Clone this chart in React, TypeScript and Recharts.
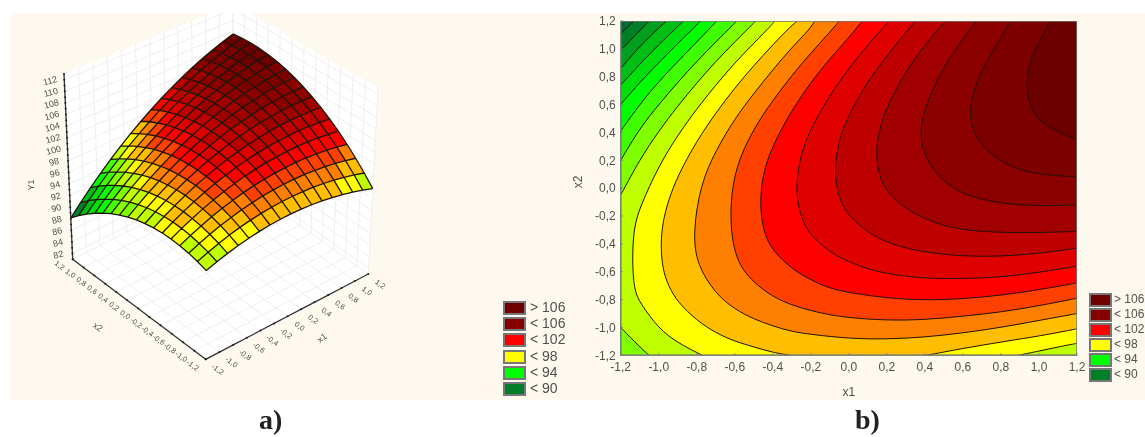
import { Area, ComposedChart, Line, XAxis, YAxis } from "recharts";

// surface heights Y1, rows x2 = -1.2 .. 1.2, columns x1 = -1.2 .. 1.2 (step 0.15)
const SURFACE_Z = [
  [95.46, 96.07, 96.6, 97.06, 97.43, 97.72, 97.94, 98.07, 98.12, 98.1, 97.99, 97.81, 97.54, 97.2, 96.78, 96.27, 95.69],
  [95.95, 96.64, 97.24, 97.78, 98.22, 98.59, 98.88, 99.09, 99.21, 99.27, 99.23, 99.13, 98.93, 98.67, 98.32, 97.88, 97.38],
  [96.32, 97.08, 97.76, 98.37, 98.89, 99.33, 99.7, 99.98, 100.18, 100.31, 100.34, 100.32, 100.19, 100.01, 99.73, 99.37, 98.94],
  [96.56, 97.4, 98.15, 98.83, 99.43, 99.94, 100.39, 100.74, 101.02, 101.22, 101.33, 101.38, 101.33, 101.22, 101.02, 100.73, 100.38],
  [96.67, 97.59, 98.41, 99.17, 99.84, 100.43, 100.95, 101.38, 101.73, 102.01, 102.19, 102.31, 102.34, 102.3, 102.18, 101.96, 101.69],
  [96.66, 97.65, 98.55, 99.38, 100.13, 100.79, 101.38, 101.89, 102.31, 102.67, 102.92, 103.12, 103.22, 103.26, 103.21, 103.07, 102.87],
  [96.52, 97.58, 98.56, 99.46, 100.29, 101.02, 101.69, 102.27, 102.77, 103.2, 103.53, 103.8, 103.98, 104.09, 104.11, 104.05, 103.92],
  [96.25, 97.39, 98.44, 99.42, 100.32, 101.13, 101.87, 102.53, 103.1, 103.61, 104.01, 104.35, 104.61, 104.79, 104.89, 104.9, 104.85],
  [95.86, 97.07, 98.2, 99.25, 100.22, 101.11, 101.92, 102.66, 103.3, 103.89, 104.36, 104.78, 105.11, 105.37, 105.54, 105.63, 105.65],
  [95.34, 96.62, 97.83, 98.95, 100.0, 100.96, 101.85, 102.66, 103.38, 104.04, 104.59, 105.08, 105.49, 105.82, 106.06, 106.23, 106.32],
  [94.69, 96.05, 97.33, 98.53, 99.65, 100.69, 101.65, 102.53, 103.33, 104.06, 104.69, 105.25, 105.74, 106.14, 106.46, 106.7, 106.87],
  [93.92, 95.35, 96.71, 97.98, 99.17, 100.29, 101.32, 102.28, 103.15, 103.96, 104.66, 105.3, 105.86, 106.34, 106.73, 107.05, 107.29],
  [93.02, 94.52, 95.96, 97.3, 98.57, 99.76, 100.87, 101.9, 102.85, 103.73, 104.51, 105.22, 105.85, 106.41, 106.87, 107.27, 107.58],
  [91.99, 93.57, 95.08, 96.5, 97.84, 99.11, 100.29, 101.39, 102.42, 103.37, 104.23, 105.01, 105.72, 106.35, 106.89, 107.36, 107.75],
  [90.83, 92.49, 94.07, 95.57, 96.98, 98.33, 99.58, 100.76, 101.86, 102.89, 103.82, 104.68, 105.46, 106.17, 106.78, 107.32, 107.79],
  [89.55, 91.28, 92.94, 94.51, 96.0, 97.42, 98.75, 100.0, 101.18, 102.28, 103.28, 104.22, 105.07, 105.86, 106.54, 107.16, 107.7],
  [88.14, 89.95, 91.68, 93.32, 94.89, 96.38, 97.79, 99.11, 100.37, 101.54, 102.62, 103.63, 104.56, 105.42, 106.18, 106.87, 107.49],
];

const BAND_LEVELS = [89, 90, 91, 92, 93, 94, 95, 96, 97, 98, 99, 100, 101, 102, 103, 104, 105, 106, 107];
const BAND_COLORS = [
  "#006a33", "#007f28", "#00a01e", "#00bf14", "#00df0a", "#00ff00", "#40ff00", "#80ff00", "#bfff00", "#ffff00",
  "#ffbf00", "#ff8000", "#ff4000", "#ff0000", "#df0000", "#bf0000", "#a00000", "#8c0000", "#7c0000", "#6c0000",
];

const AXIS_TICKS = [-1.2, -1, -0.8, -0.6, -0.4, -0.2, 0, 0.2, 0.4, 0.6, 0.8, 1, 1.2];
const Z_TICKS = [82, 84, 86, 88, 90, 92, 94, 96, 98, 100, 102, 104, 106, 108, 110, 112];
const Z_STEPS = [81, 82, 83, 84, 85, 86, 87, 88, 89, 90, 91, 92, 93, 94, 95, 96, 97, 98, 99, 100, 101, 102, 103, 104, 105, 106, 107, 108, 109, 110, 111, 112, 113];

// contour lines of panel b as [x1, x2], one or two pieces per level
const CONTOURS: number[][][][] = [
  [[[-1.2, 1.11], [-1.13, 1.2]]],
  [[[-1.2, 0.99], [-1.1, 1.13], [-1.05, 1.2]]],
  [[[-1.2, 0.86], [-1.1, 1.02], [-1, 1.15], [-0.96, 1.2]]],
  [[[-1.2, 0.74], [-1.1, 0.89], [-1, 1.03], [-0.9, 1.16], [-0.87, 1.2]]],
  [[[-1.2, 0.6], [-1.1, 0.76], [-1, 0.9], [-0.9, 1.04], [-0.8, 1.17], [-0.78, 1.2]]],
  [[[-1.2, 0.41], [-1.08, 0.64], [-0.95, 0.84], [-0.82, 1.02], [-0.695, 1.2]]],
  [[[-1.2, 0.2], [-1.1, 0.43], [-1, 0.6], [-0.9, 0.76], [-0.8, 0.91], [-0.7, 1.05], [-0.6, 1.185], [-0.59, 1.2]]],
  [
    [[-0.49, 1.2], [-0.6, 1.05], [-0.7, 0.91], [-0.8, 0.755], [-0.9, 0.59], [-1, 0.41], [-1.1, 0.205], [-1.2, -0.05]],
    [[-1.2, -1.0], [-1.1, -1.14], [-1.05, -1.2]],
  ],
  [
    [[-0.39, 1.2], [-0.4, 1.18], [-0.5, 1.04], [-0.6, 0.9], [-0.7, 0.74], [-0.8, 0.57], [-0.9, 0.38], [-1, 0.16], [-1.1, -0.14], [-1.13, -0.28], [-1.14, -0.5], [-1.13, -0.73], [-1.1, -0.82], [-1, -1.01], [-0.9, -1.11], [-0.8, -1.18], [-0.77, -1.2]],
    [[0.89, -1.2], [1, -1.17], [1.1, -1.14], [1.2, -1.114]],
  ],
  [
    [[-0.27, 1.2], [-0.3, 1.17], [-0.4, 1.03], [-0.5, 0.88], [-0.6, 0.72], [-0.7, 0.54], [-0.8, 0.34], [-0.9, 0.09], [-0.95, -0.09], [-0.98, -0.25], [-0.99, -0.41], [-0.98, -0.58], [-0.95, -0.7], [-0.9, -0.82], [-0.8, -0.95], [-0.7, -1.04], [-0.6, -1.1], [-0.5, -1.14], [-0.4, -1.18], [-0.31, -1.2]],
    [[0.41, -1.2], [0.6, -1.15], [0.82, -1.1], [1.01, -1.06], [1.2, -1.01]],
  ],
  [[[-0.18, 1.2], [-0.2, 1.15], [-0.3, 1.01], [-0.4, 0.85], [-0.5, 0.68], [-0.6, 0.5], [-0.7, 0.27], [-0.78, 0.03], [-0.82, -0.32], [-0.8, -0.55], [-0.7, -0.76], [-0.6, -0.87], [-0.5, -0.94], [-0.4, -0.99], [-0.3, -1.03], [-0.2, -1.05], [0, -1.08], [0.2, -1.085], [0.4, -1.07], [0.6, -1.04], [0.8, -1], [1, -0.95], [1.2, -0.9]]],
  [[[-0.05, 1.2], [-0.1, 1.12], [-0.2, 0.97], [-0.3, 0.81], [-0.4, 0.63], [-0.5, 0.43], [-0.6, 0.15], [-0.63, -0.19], [-0.6, -0.52], [-0.5, -0.68], [-0.4, -0.78], [-0.3, -0.84], [-0.2, -0.88], [-0.1, -0.91], [0, -0.93], [0.2, -0.95], [0.4, -0.945], [0.6, -0.92], [0.8, -0.89], [1, -0.845], [1.2, -0.79]]],
  [[[0.07, 1.2], [0, 1.08], [-0.1, 0.93], [-0.2, 0.76], [-0.3, 0.56], [-0.4, 0.31], [-0.45, 0.12], [-0.47, -0.1], [-0.45, -0.32], [-0.4, -0.45], [-0.3, -0.58], [-0.2, -0.66], [-0.1, -0.72], [0, -0.75], [0.2, -0.79], [0.4, -0.805], [0.6, -0.795], [0.8, -0.77], [1, -0.73], [1.2, -0.68]]],
  [[[0.21, 1.2], [0.2, 1.18], [0.1, 1.03], [0, 0.86], [-0.1, 0.67], [-0.2, 0.43], [-0.25, 0.26], [-0.285, 0], [-0.25, -0.23], [-0.2, -0.34], [-0.1, -0.46], [0, -0.53], [0.1, -0.58], [0.2, -0.615], [0.4, -0.65], [0.6, -0.65], [0.8, -0.64], [1, -0.605], [1.2, -0.56]]],
  [[[0.35, 1.2], [0.3, 1.12], [0.2, 0.95], [0.1, 0.77], [0, 0.53], [-0.05, 0.36], [-0.08, 0.12], [-0.05, -0.09], [0, -0.2], [0.1, -0.32], [0.2, -0.39], [0.3, -0.43], [0.4, -0.46], [0.6, -0.49], [0.8, -0.49], [1, -0.47], [1.2, -0.43]]],
  [[[0.51, 1.2], [0.5, 1.19], [0.4, 1.03], [0.3, 0.84], [0.2, 0.59], [0.16, 0.42], [0.14, 0.25], [0.16, 0.08], [0.2, -0.03], [0.3, -0.15], [0.4, -0.22], [0.5, -0.27], [0.6, -0.3], [0.8, -0.32], [1, -0.32], [1.2, -0.31]]],
  [[[0.67, 1.2], [0.6, 1.07], [0.5, 0.88], [0.4, 0.59], [0.37, 0.39], [0.4, 0.21], [0.5, 0.04], [0.6, -0.04], [0.7, -0.08], [0.8, -0.11], [1, -0.13], [1.2, -0.12]]],
  [[[0.85, 1.2], [0.8, 1.08], [0.7, 0.86], [0.65, 0.67], [0.635, 0.54], [0.65, 0.42], [0.7, 0.295], [0.8, 0.19], [0.9, 0.13], [1, 0.1], [1.2, 0.08]]],
  [[[1.06, 1.2], [1, 1.05], [0.96, 0.94], [0.94, 0.82], [0.935, 0.7], [0.96, 0.56], [1, 0.49], [1.07, 0.42], [1.2, 0.35]]],
];

const LEGEND_LABELS = ["> 106", "< 106", "< 102", "< 98", "< 94", "< 90"];
const LEGEND_COLORS = ["#6e0000", "#860000", "#ff0000", "#ffff00", "#00ff00", "#007f28"];

const BG = "#fdf9ef";
const TEXT = "#505050";
const fmt = (v: number) => (Number.isInteger(v) ? `${v},0` : String(v)).replace(".", ",");

// ---- projection of panel a: box corners on the page, perspective warp per level
type Pt = { x: number; y: number };
const warp = (p0: Pt, p1: Pt, p2: Pt, p3: Pt) => {
  const dx1 = p1.x - p2.x, dx2 = p3.x - p2.x, sx = p0.x - p1.x + p2.x - p3.x;
  const dy1 = p1.y - p2.y, dy2 = p3.y - p2.y, sy = p0.y - p1.y + p2.y - p3.y;
  const den = dx1 * dy2 - dx2 * dy1;
  const g = (sx * dy2 - dx2 * sy) / den;
  const h = (dx1 * sy - sx * dy1) / den;
  const a = p1.x - p0.x + g * p1.x, b = p3.x - p0.x + h * p3.x;
  const d = p1.y - p0.y + g * p1.y, e = p3.y - p0.y + h * p3.y;
  return (s: number, t: number) => {
    const w = g * s + h * t + 1;
    return { x: (a * s + b * t + p0.x) / w, y: (d * s + e * t + p0.y) / w };
  };
};
const floor = warp({ x: 205.7, y: 359.3 }, { x: 368.3, y: 274 }, { x: 233, y: 178 }, { x: 72.7, y: 259.3 });
const roof = warp({ x: 207, y: 163 }, { x: 378, y: 88 }, { x: 233, y: 4 }, { x: 64, y: 74 });
const Z_MIN = 81;
const Z_MAX = 113;
const project = (s: number, t: number, z: number) => {
  const k = (z - Z_MIN) / (Z_MAX - Z_MIN);
  const lo = floor(s, t), hi = roof(s, t);
  return { u: lo.x + (hi.x - lo.x) * k, v: lo.y + (hi.y - lo.y) * k };
};
const toUnit = (v: number) => (v + 1.2) / 2.4;

type Row = { u: number; v: number | null; label?: string; angle?: number; size?: number };
const segs = (list: Row[][]) => {
  const out: Row[] = [];
  list.forEach((seg) => {
    out.push(...seg);
    out.push({ u: seg[seg.length - 1].u, v: null });
  });
  return out;
};

const n = SURFACE_Z.length - 1;
const node = (i: number, j: number) => project(i / n, j / n, SURFACE_Z[j][i]);

// one closed outline per mesh cell, started at its highest corner on the page
const cells: { poly: Row[]; color: string }[] = [];
for (let j = 0; j < n; j++) {
  for (let i = 0; i < n; i++) {
    const mean = (SURFACE_Z[j][i] + SURFACE_Z[j][i + 1] + SURFACE_Z[j + 1][i] + SURFACE_Z[j + 1][i + 1]) / 4;
    const ring = [node(i + 1, j + 1), node(i, j + 1), node(i, j), node(i + 1, j)];
    const top = ring.reduce((best, p, k) => (p.v < ring[best].v ? k : best), 0);
    const poly = [...ring.slice(top), ...ring.slice(0, top), ring[top]];
    cells.push({ poly, color: BAND_COLORS[BAND_LEVELS.filter((l) => mean >= l).length] });
  }
}

const meshRows = segs([
  ...SURFACE_Z.map((row, j) => row.map((_, i) => node(i, j))),
  ...SURFACE_Z[0].map((_, i) => SURFACE_Z.map((__, j) => node(i, j))),
]);

const floorPoly = [project(1, 1, Z_MIN), project(1, 0, Z_MIN), project(0, 0, Z_MIN), project(0, 1, Z_MIN), project(1, 1, Z_MIN)];
const leftWall = [project(1, 1, Z_MAX), project(1, 1, Z_MIN), project(0, 1, Z_MIN), project(0, 1, Z_MAX), project(1, 1, Z_MAX)];
const rightWall = [project(1, 1, Z_MAX), project(1, 0, Z_MAX), project(1, 0, Z_MIN), project(1, 1, Z_MIN), project(1, 1, Z_MAX)];

const gridRows = segs([
  ...AXIS_TICKS.map((a) => [project(toUnit(a), 0, Z_MIN), project(toUnit(a), 1, Z_MIN), project(toUnit(a), 1, Z_MAX)]),
  ...AXIS_TICKS.map((a) => [project(0, toUnit(a), Z_MIN), project(1, toUnit(a), Z_MIN), project(1, toUnit(a), Z_MAX)]),
  ...Z_TICKS.map((z) => [project(0, 1, z), project(1, 1, z), project(1, 0, z)]),
]);

const x2Axis = AXIS_TICKS.map((a) => project(0, toUnit(a), Z_MIN));
const x1Axis = AXIS_TICKS.map((a) => project(toUnit(a), 0, Z_MIN));
const zAxis = Z_STEPS.map((z) => project(0, 1, z));

const labels3d: Row[] = [
  ...AXIS_TICKS.map((a) => {
    const p = project(0, toUnit(a), Z_MIN);
    return { u: p.u - 13, v: p.v + 6, label: fmt(a), angle: 35, size: 7.5 };
  }),
  ...AXIS_TICKS.map((a) => {
    const p = project(toUnit(a), 0, Z_MIN);
    return { u: p.u + 12, v: p.v + 10, label: fmt(a), angle: 35, size: 7.5 };
  }),
  ...Z_TICKS.map((z) => {
    const p = project(0, 1, z);
    return { u: p.u - 14, v: p.v + 1, label: String(z), angle: -15, size: 9 };
  }),
  { u: 31, v: 185, label: "Y1", angle: -90, size: 9 },
  { u: 98, v: 327, label: "x2", angle: 35, size: 9 },
  { u: 322, v: 338, label: "x1", angle: -35, size: 9 },
];

const LabelDot = (p: any) => (
  <text
    key={p.index}
    x={p.cx}
    y={p.cy}
    textAnchor="middle"
    dominantBaseline="central"
    fontSize={p.payload.size}
    fill={TEXT}
    fontFamily="Liberation Sans"
    transform={`rotate(${p.payload.angle} ${p.cx} ${p.cy})`}
  >
    {p.payload.label}
  </text>
);

// ---- contour regions of panel b, painted low to high. Ends and edge corners are
// tripled so the basis curve passes through them and only rounds the contours.
const CORNERS: number[][][] = CONTOURS.map((_, k) =>
  k < 7 ? [[1.2, 1.2], [1.2, -1.2], [-1.2, -1.2]] : k === 7 ? [[1.2, -1.2], [1.2, 1.2]] : [[1.2, 1.2]]
);
const FRAME = [[-1.2, -1.2], [1.2, -1.2], [1.2, 1.2], [-1.2, 1.2], [-1.2, -1.2]];
const toXY = (pts: number[][]) => pts.map(([x, y]) => ({ x, y }));
const pin = (p: number[]) => [p, p, p];
const pinEnds = (piece: number[][]) => [...pin(piece[0]), ...piece.slice(1, -1), ...pin(piece[piece.length - 1])];
const regions = CONTOURS.map((pieces, k) => {
  const ring = [...pieces.flatMap(pinEnds), ...CORNERS[k].flatMap(pin)];
  return toXY([...ring, ...pin(pieces[0][0])]);
});
const lineRows = CONTOURS.map((pieces) =>
  pieces.flatMap((piece) => [...toXY(pinEnds(piece)), { x: piece[piece.length - 1][0], y: null as number | null }])
);

const Legend = ({ left, top, step, size, gap }: { left: number; top: number; step: number; size: number; gap: number }) => (
  <div style={{ position: "absolute", left, top, fontFamily: "Liberation Sans", fontSize: size, color: TEXT }}>
    {LEGEND_LABELS.map((label, i) => (
      <div key={label} style={{ position: "absolute", top: i * step, left: 0, whiteSpace: "nowrap", height: 13, lineHeight: "13px" }}>
        <span style={{ position: "absolute", left: 0, top: 0, width: 19, height: 10, background: LEGEND_COLORS[i], border: "2px solid #777" }} />
        <span style={{ position: "absolute", left: gap, top: 0 }}>{label}</span>
      </div>
    ))}
  </div>
);

const Surface3D = () => (
  <ComposedChart width={560} height={387} margin={{ top: 0, right: 0, bottom: 0, left: 0 }}>
    <XAxis dataKey="u" type="number" domain={[10, 570]} hide allowDataOverflow />
    <YAxis type="number" domain={[13, 400]} reversed hide allowDataOverflow />
    {[floorPoly, leftWall, rightWall].map((poly, i) => (
      <Area key={i} data={poly} dataKey="v" baseValue={13} fill="#ffffff" fillOpacity={1} stroke="none" dot={false} activeDot={false} isAnimationActive={false} />
    ))}
    {/* an Area's stroke, since Recharts layers every Line above every Area */}
    <Area data={gridRows} dataKey="v" baseValue={13} fill="none" stroke="#efefef" strokeWidth={1} dot={false} activeDot={false} isAnimationActive={false} />
    {cells.map((cell, c) => (
      <Area key={c} data={cell.poly} dataKey="v" baseValue={13} fill={cell.color} fillOpacity={1} stroke="none" dot={false} activeDot={false} isAnimationActive={false} />
    ))}
    <Line data={meshRows} dataKey="v" stroke="#1c1408" strokeWidth={1.3} dot={false} activeDot={false} isAnimationActive={false} />
    {[x2Axis, x1Axis, zAxis].map((axis, i) => (
      <Line key={i} data={axis} dataKey="v" stroke="#333" strokeWidth={1.3} dot={{ r: 1, fill: "#222", stroke: "none" }} activeDot={false} isAnimationActive={false} />
    ))}
    <Line data={labels3d} dataKey="v" stroke="none" dot={LabelDot} activeDot={false} isAnimationActive={false} />
  </ComposedChart>
);

const tickStyle = { fontSize: 12, fill: TEXT, fontFamily: "Liberation Sans" };

const ContourMap = () => (
  <ComposedChart width={575} height={387} margin={{ top: 8, right: 68, bottom: 0, left: 0 }}>
    <XAxis
      dataKey="x"
      type="number"
      domain={[-1.2, 1.2]}
      allowDataOverflow
      ticks={AXIS_TICKS}
      interval={0}
      tickFormatter={fmt}
      tick={tickStyle}
      tickSize={-2}
      tickMargin={9}
      stroke="#777"
      height={44.7}
      label={{ value: "x1", position: "insideBottom", offset: 4, style: { ...tickStyle, fontSize: 12 } }}
    />
    <YAxis
      type="number"
      domain={[-1.2, 1.2]}
      allowDataOverflow
      ticks={AXIS_TICKS}
      interval={0}
      tickFormatter={fmt}
      tick={tickStyle}
      tickSize={-2}
      tickMargin={7}
      stroke="#777"
      width={50.7}
      label={{ value: "x2", angle: -90, position: "insideLeft", offset: 8, style: { ...tickStyle, fontSize: 12 } }}
    />
    <Area data={toXY(FRAME)} dataKey="y" baseValue={1.2} fill={BAND_COLORS[0]} fillOpacity={1} stroke="none" dot={false} activeDot={false} isAnimationActive={false} />
    {regions.map((poly, k) => (
      <Area key={k} data={poly} dataKey="y" type="basis" baseValue={1.2} fill={BAND_COLORS[k + 1]} fillOpacity={1} stroke="none" dot={false} activeDot={false} isAnimationActive={false} />
    ))}
    {lineRows.map((rows, k) => (
      <Line key={k} data={rows} dataKey="y" type="basis" stroke="#201000" strokeWidth={1} dot={false} activeDot={false} isAnimationActive={false} />
    ))}
    <Line data={toXY(FRAME)} dataKey="y" stroke="#777" strokeWidth={1.5} dot={false} activeDot={false} isAnimationActive={false} />
  </ComposedChart>
);

const caption = { position: "absolute", top: 405, fontFamily: "Liberation Serif", fontWeight: 700, fontSize: 28, lineHeight: "30px", color: "#222" } as const;

export default function App() {
  return (
    <div style={{ position: "absolute", left: 0, top: 0, width: 1145, height: 437, overflow: "hidden", background: "#fff", filter: "blur(0.6px)" }}>
      <div style={{ position: "absolute", left: 10, top: 13, width: 1135, height: 387, background: BG }} />
      <div style={{ position: "absolute", left: 10, top: 13 }}>
        <Surface3D />
      </div>
      <div style={{ position: "absolute", left: 570, top: 13 }}>
        <ContourMap />
      </div>
      <Legend left={503} top={301} step={16.2} size={14} gap={27} />
      <Legend left={1089} top={293} step={15} size={12} gap={25} />
      <div style={{ ...caption, left: 259 }}>a)</div>
      <div style={{ ...caption, left: 855 }}>b)</div>
    </div>
  );
}
